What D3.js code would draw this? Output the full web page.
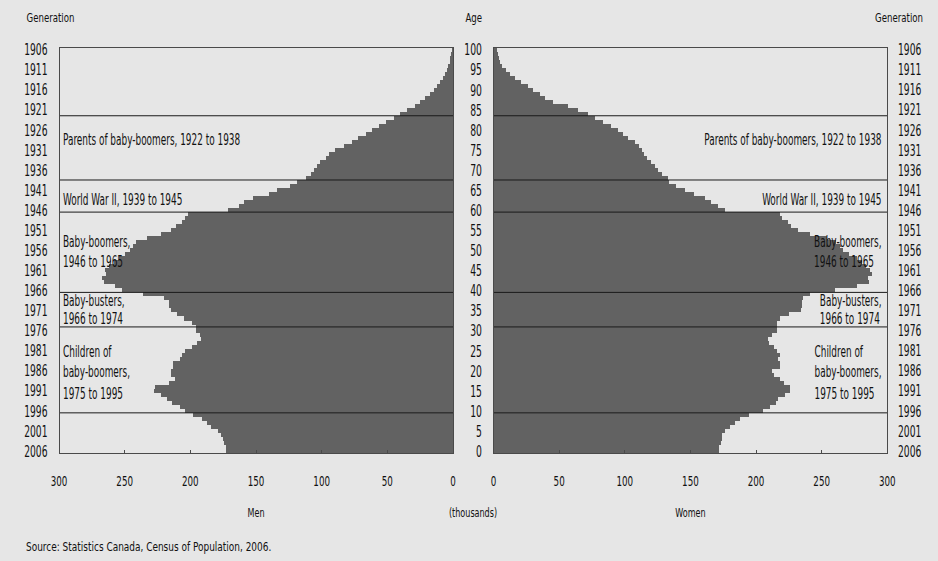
<!DOCTYPE html>
<html><head><meta charset="utf-8">
<script src="https://cdn.jsdelivr.net/npm/d3@7"></script>
<style>
html,body{margin:0;padding:0;background:#e6e6e6;}
svg{display:block;}
text{font-family:'Liberation Sans Narrow','Arial Narrow','DejaVu Sans Condensed',sans-serif;fill:#111;}
</style></head><body>
<svg id="c" width="938" height="561"></svg>
<script>
// ---------- DATA ----------
const ages = d3.range(0, 101); // age categories 0..100
// Men, thousands, index = age
const men = [173,173,174,175,177,179,184,187,191,198,
             204,208,214,218,222,228,227,216,212,215,
             215,213,213,208,206,204,199,195,192,193,
             196,196,199,205,210,215,216,216,220,236,
             252,257,266,267,264,265,262,258,254,250,
             246,244,241,233,222,215,211,206,204,202,
             171,163,159,152,140,134,124,119,112,108.5,
             106,103.5,101,97,94.6,89.5,83,77,72.5,66,
             61.6,56.6,51,45,40,35,28.7,25,21.3,17.8,
             14.7,12.2,9.7,7.6,5.9,4.6,3.6,2.5,2,1.3,
             0.8];
// Women, thousands, index = age
const women = [172,172,173,174,174,176,180,184,188,195,
               205,211,215,217,222,226,226,221,218,214,
               212,218,218,217,218,216,214,210,209,212,
               216,216,216,218,225,234,235,235,236,241,
               260,277,286,285,288,287,284,281,277,271,
               266,264,261,254,241,232,227,224,220,218,
               176,171,166,161,153,146,139,134,133,128,
               125,123,120,117,115,113,111,107.5,102.5,98.7,
               94.8,89.8,83.4,77,72,64.4,56.8,45.3,39.5,35.2,
               30.1,26.3,21.2,16.1,12.3,9.8,6.5,4.7,4,3.4,
               2.9];
const ageTicks = [0,5,10,15,20,25,30,35,40,45,50,55,60,65,70,75,80,85,90,95,100];
const generationLabels = ['2006','2001','1996','1991','1986','1981','1976','1971','1966','1961','1956','1951','1946','1941','1936','1931','1926','1921','1916','1911','1906'];
const valueTicks = [0,50,100,150,200,250,300];
const groupBoundaries = [84, 68, 60, 40, 31.4, 10];
const groupLabels = [
  ['Parents of baby-boomers, 1922 to 1938'],
  ['World War II, 1939 to 1945'],
  ['Baby-boomers,', '1946 to 1965'],
  ['Baby-busters,', '1966 to 1974'],
  ['Children of', 'baby-boomers,', '1975 to 1995']
];
const sourceText = 'Source: Statistics Canada, Census of Population, 2006.';

// ---------- LAYOUT ----------
const svg = d3.select('#c');
svg.append('rect').attr('width', 938).attr('height', 561).attr('fill', '#e6e6e6');

const yTop = 47.5, yBot = 453;
const L0 = 59, L1 = 453, R0 = 493.5, R1 = 887.3;
const xMen = d3.scaleLinear().domain([0, 300]).range([L1, L0]);
const xWomen = d3.scaleLinear().domain([0, 300]).range([R0, R1]);
const yBand = d3.scaleBand().domain(ages).range([yBot, yTop]).paddingInner(0).paddingOuter(0);
const yLin = d3.scaleLinear().domain([0, 101]).range([yBot, yTop]);
const yMid = a => yBand(a) + yBand.bandwidth() / 2;

// font width calibration (target: Arial Narrow digit width 0.456em)
const probe = svg.append('text').style('font-size', '100px').text('0123456789');
const probeW = probe.node().getComputedTextLength();
probe.remove();
const fk = probeW > 0 ? 456 / probeW : 1;

function txt(g, x, y, s, size, anchor, sx) {
  return g.append('text')
    .attr('transform', `translate(${x},${y}) scale(${sx * fk},1)`)
    .attr('text-anchor', anchor)
    .style('font-size', size + 'px')
    .text(s);
}

// bars
const bars = svg.append('g').attr('shape-rendering', 'crispEdges').attr('fill', '#626262');
bars.selectAll('rect.m').data(ages).join('rect').attr('class', 'm')
  .attr('x', a => xMen(men[a])).attr('width', a => L1 - xMen(men[a]))
  .attr('y', a => yBand(a)).attr('height', yBand.bandwidth());
bars.selectAll('rect.w').data(ages).join('rect').attr('class', 'w')
  .attr('x', R0).attr('width', a => xWomen(women[a]) - R0)
  .attr('y', a => yBand(a)).attr('height', yBand.bandwidth());

// generation boundary lines
const lines = svg.append('g').attr('stroke', '#1a1a1a').attr('stroke-width', 1);
groupBoundaries.forEach(k => {
  lines.append('line').attr('x1', L0).attr('x2', L1).attr('y1', yLin(k)).attr('y2', yLin(k));
  lines.append('line').attr('x1', R0).attr('x2', R1).attr('y1', yLin(k)).attr('y2', yLin(k));
});

// frames
const frames = svg.append('g').attr('fill', 'none').attr('stroke', '#4a4a4a').attr('stroke-width', 1).attr('shape-rendering', 'crispEdges');
frames.append('rect').attr('x', L0).attr('y', yTop).attr('width', L1 - L0).attr('height', yBot - yTop + 0.5);
frames.append('rect').attr('x', R0).attr('y', yTop).attr('width', R1 - R0).attr('height', yBot - yTop + 0.5);
// ticks (inward, from bottom)
valueTicks.filter(v => v > 0 && v < 300).forEach(v => {
  frames.append('line').attr('x1', xMen(v)).attr('x2', xMen(v)).attr('y1', yBot + 0.5).attr('y2', yBot - 3.5);
  frames.append('line').attr('x1', xWomen(v)).attr('x2', xWomen(v)).attr('y1', yBot + 0.5).attr('y2', yBot - 3.5);
});

// texts
const T = svg.append('g');
const cond = 0.84;
// headers
txt(T, 26.5, 22.3, 'Generation', 12, 'start', 1.0);
txt(T, 923, 22.3, 'Generation', 12, 'end', 1.0);
txt(T, 482, 22.3, 'Age', 12, 'end', 1.0);
// generation & age labels
ageTicks.forEach((a, i) => {
  const y = yMid(a) + 5.7;
  txt(T, 47.5, y, generationLabels[i], 16, 'end', 0.8);
  txt(T, 898, y, generationLabels[i], 16, 'start', 0.8);
  txt(T, 482, y + 0.2, String(a), 15, 'end', 0.86);
});
// x-axis labels
valueTicks.forEach(v => {
  txt(T, xMen(v), 486.3, String(v), 14.5, 'middle', cond);
  txt(T, xWomen(v), 486.3, String(v), 14.5, 'middle', cond);
});
txt(T, (L0 + L1) / 2, 517.3, 'Men', 12.5, 'middle', 0.9);
txt(T, 473, 517.3, '(thousands)', 12.5, 'middle', 0.9);
txt(T, (R0 + R1) / 2, 517.3, 'Women', 12.5, 'middle', 0.9);
txt(T, 26, 550.5, sourceText, 12.5, 'start', 1.0);

// group labels
const labelCenters = [[140], [200], [242, 262], [301, 319], [352, 372, 394]];
const gsz = 15, gsx = 0.83;
groupLabels.forEach((ls, gi) => {
  // left panel: left-aligned
  ls.forEach((s, li) => txt(T, 63, labelCenters[gi][li] + 5.3, s, gsz, 'start', gsx));
  // right panel: block left-aligned, widest line ends at 881.5
  const tmp = ls.map((s, li) => txt(T, 0, labelCenters[gi][li] + 5.3, s, gsz, 'start', gsx));
  const maxW = d3.max(tmp, t => t.node().getComputedTextLength()) * gsx * fk;
  const x0 = 881.5 - maxW;
  tmp.forEach((t, li) => t.attr('transform', `translate(${x0},${labelCenters[gi][li] + 5.3}) scale(${gsx * fk},1)`));
});
</script>
</body></html>
